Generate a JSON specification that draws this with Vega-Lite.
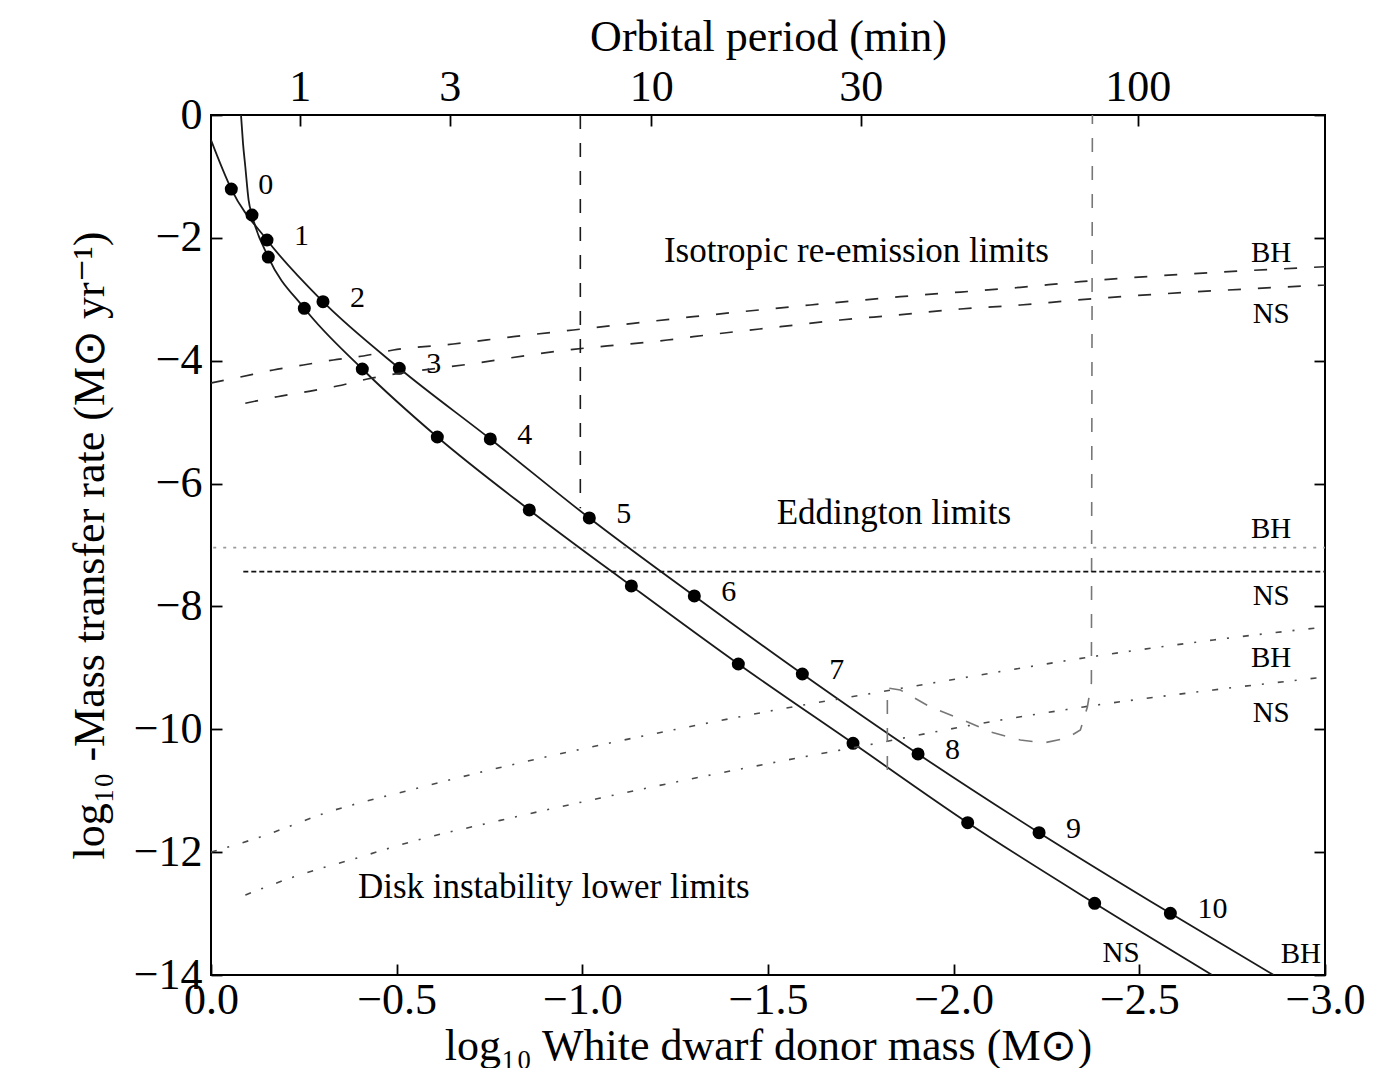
{
  "$schema": "https://vega.github.io/schema/vega-lite/v6.json",
  "width": 1114,
  "height": 860,
  "autosize": {"type": "none"},
  "padding": {"left": 211, "top": 115, "right": 66, "bottom": 93},
  "background": "white",
  "config": {
    "font": "Liberation Serif",
    "view": {"stroke": "black", "strokeWidth": 2},
    "axis": {
      "domain": false, "grid": false,
      "tickColor": "black", "tickWidth": 1.8, "tickSize": -11,
      "labelColor": "black", "titleColor": "black",
      "labelFont": "Liberation Serif", "titleFont": "Liberation Serif",
      "labelFontSize": 44, "titleFontSize": 44, "titleFontWeight": "normal",
      "labelOverlap": false, "labelBound": false, "labelFlush": false
    }
  },
  "datasets": {
    "curves": [
      {"s": "BH", "x": 0, "y": -0.407},
      {"s": "BH", "x": -0.0547, "y": -1.205},
      {"s": "BH", "x": -0.1508, "y": -2.035},
      {"s": "BH", "x": -0.3016, "y": -3.039},
      {"s": "BH", "x": -0.5071, "y": -4.123},
      {"s": "BH", "x": -0.7522, "y": -5.274},
      {"s": "BH", "x": -1.0188, "y": -6.56},
      {"s": "BH", "x": -1.3016, "y": -7.83},
      {"s": "BH", "x": -1.5925, "y": -9.1},
      {"s": "BH", "x": -1.9041, "y": -10.402},
      {"s": "BH", "x": -2.23, "y": -11.683},
      {"s": "BH", "x": -2.5836, "y": -12.996},
      {"s": "BH", "x": -2.862, "y": -14.0},
      {"s": "NS", "x": -0.0808, "y": 0},
      {"s": "NS", "x": -0.0862, "y": -0.461},
      {"s": "NS", "x": -0.0924, "y": -0.842},
      {"s": "NS", "x": -0.1013, "y": -1.384},
      {"s": "NS", "x": -0.1104, "y": -1.628},
      {"s": "NS", "x": -0.1543, "y": -2.312},
      {"s": "NS", "x": -0.2513, "y": -3.147},
      {"s": "NS", "x": -0.4075, "y": -4.135},
      {"s": "NS", "x": -0.6095, "y": -5.242},
      {"s": "NS", "x": -0.8572, "y": -6.43},
      {"s": "NS", "x": -1.132, "y": -7.667},
      {"s": "NS", "x": -1.4201, "y": -8.937},
      {"s": "NS", "x": -1.729, "y": -10.228},
      {"s": "NS", "x": -2.0377, "y": -11.521},
      {"s": "NS", "x": -2.3797, "y": -12.833},
      {"s": "NS", "x": -2.696, "y": -14.0}
    ],
    "dots": [
      {"s": "BH", "n": "0", "x": -0.0547, "y": -1.205},
      {"s": "BH", "n": "1", "x": -0.1508, "y": -2.035},
      {"s": "BH", "n": "2", "x": -0.3016, "y": -3.039},
      {"s": "BH", "n": "3", "x": -0.5071, "y": -4.123},
      {"s": "BH", "n": "4", "x": -0.7522, "y": -5.274},
      {"s": "BH", "n": "5", "x": -1.0188, "y": -6.56},
      {"s": "BH", "n": "6", "x": -1.3016, "y": -7.83},
      {"s": "BH", "n": "7", "x": -1.5925, "y": -9.1},
      {"s": "BH", "n": "8", "x": -1.9041, "y": -10.402},
      {"s": "BH", "n": "9", "x": -2.23, "y": -11.683},
      {"s": "BH", "n": "10", "x": -2.5836, "y": -12.996},
      {"s": "NS", "n": "0", "x": -0.1104, "y": -1.628},
      {"s": "NS", "n": "1", "x": -0.1543, "y": -2.312},
      {"s": "NS", "n": "2", "x": -0.2513, "y": -3.147},
      {"s": "NS", "n": "3", "x": -0.4075, "y": -4.135},
      {"s": "NS", "n": "4", "x": -0.6095, "y": -5.242},
      {"s": "NS", "n": "5", "x": -0.8572, "y": -6.43},
      {"s": "NS", "n": "6", "x": -1.132, "y": -7.667},
      {"s": "NS", "n": "7", "x": -1.4201, "y": -8.937},
      {"s": "NS", "n": "8", "x": -1.729, "y": -10.228},
      {"s": "NS", "n": "9", "x": -2.0377, "y": -11.521},
      {"s": "NS", "n": "10", "x": -2.3797, "y": -12.833}
    ],
    "limits": [
      {"s": "isoBH", "i": 0, "x": 0, "y": -4.363},
      {"s": "isoBH", "i": 1, "x": -0.0789, "y": -4.265},
      {"s": "isoBH", "i": 2, "x": -0.1678, "y": -4.151},
      {"s": "isoBH", "i": 3, "x": -0.2486, "y": -4.07},
      {"s": "isoBH", "i": 4, "x": -0.3294, "y": -3.988},
      {"s": "isoBH", "i": 5, "x": -0.4102, "y": -3.923},
      {"s": "isoBH", "i": 6, "x": -0.491, "y": -3.826},
      {"s": "isoBH", "i": 7, "x": -0.6526, "y": -3.728},
      {"s": "isoBH", "i": 8, "x": -0.8142, "y": -3.609},
      {"s": "isoBH", "i": 9, "x": -0.9757, "y": -3.5},
      {"s": "isoBH", "i": 10, "x": -1.1373, "y": -3.391},
      {"s": "isoBH", "i": 11, "x": -1.2989, "y": -3.283},
      {"s": "isoBH", "i": 12, "x": -1.614, "y": -3.093},
      {"s": "isoBH", "i": 13, "x": -1.8564, "y": -2.958},
      {"s": "isoBH", "i": 14, "x": -2.1796, "y": -2.805},
      {"s": "isoBH", "i": 15, "x": -2.3412, "y": -2.714},
      {"s": "isoBH", "i": 16, "x": -3.0, "y": -2.47},
      {"s": "isoNS", "i": 0, "x": -0.0924, "y": -4.693},
      {"s": "isoNS", "i": 1, "x": -0.1786, "y": -4.586},
      {"s": "isoNS", "i": 2, "x": -0.2594, "y": -4.504},
      {"s": "isoNS", "i": 3, "x": -0.3402, "y": -4.412},
      {"s": "isoNS", "i": 4, "x": -0.4209, "y": -4.298},
      {"s": "isoNS", "i": 5, "x": -0.6984, "y": -4.053},
      {"s": "isoNS", "i": 6, "x": -0.9757, "y": -3.814},
      {"s": "isoNS", "i": 7, "x": -1.0673, "y": -3.76},
      {"s": "isoNS", "i": 8, "x": -1.2289, "y": -3.663},
      {"s": "isoNS", "i": 9, "x": -1.2989, "y": -3.609},
      {"s": "isoNS", "i": 10, "x": -1.5333, "y": -3.446},
      {"s": "isoNS", "i": 11, "x": -1.6948, "y": -3.337},
      {"s": "isoNS", "i": 12, "x": -1.8484, "y": -3.256},
      {"s": "isoNS", "i": 13, "x": -2.018, "y": -3.158},
      {"s": "isoNS", "i": 14, "x": -2.1796, "y": -3.093},
      {"s": "isoNS", "i": 15, "x": -2.3331, "y": -3.012},
      {"s": "isoNS", "i": 16, "x": -3.0, "y": -2.767},
      {"s": "diskBH", "i": 0, "x": 0, "y": -12.0},
      {"s": "diskBH", "i": 1, "x": -0.1328, "y": -11.753},
      {"s": "diskBH", "i": 2, "x": -0.3159, "y": -11.347},
      {"s": "diskBH", "i": 3, "x": -0.5368, "y": -10.988},
      {"s": "diskBH", "i": 4, "x": -0.7791, "y": -10.622},
      {"s": "diskBH", "i": 5, "x": -1.0485, "y": -10.256},
      {"s": "diskBH", "i": 6, "x": -1.3178, "y": -9.922},
      {"s": "diskBH", "i": 7, "x": -1.5871, "y": -9.613},
      {"s": "diskBH", "i": 8, "x": -1.7218, "y": -9.474},
      {"s": "diskBH", "i": 9, "x": -1.9911, "y": -9.198},
      {"s": "diskBH", "i": 10, "x": -2.3681, "y": -8.823},
      {"s": "diskBH", "i": 11, "x": -2.6994, "y": -8.546},
      {"s": "diskBH", "i": 12, "x": -3.0, "y": -8.335},
      {"s": "diskNS", "i": 0, "x": -0.0924, "y": -12.698},
      {"s": "diskNS", "i": 1, "x": -0.2216, "y": -12.405},
      {"s": "diskNS", "i": 2, "x": -0.4021, "y": -12.079},
      {"s": "diskNS", "i": 3, "x": -0.5368, "y": -11.835},
      {"s": "diskNS", "i": 4, "x": -0.7791, "y": -11.483},
      {"s": "diskNS", "i": 5, "x": -1.0485, "y": -11.119},
      {"s": "diskNS", "i": 6, "x": -1.3178, "y": -10.777},
      {"s": "diskNS", "i": 7, "x": -1.5871, "y": -10.459},
      {"s": "diskNS", "i": 8, "x": -1.7756, "y": -10.248},
      {"s": "diskNS", "i": 9, "x": -1.9911, "y": -9.995},
      {"s": "diskNS", "i": 10, "x": -2.3493, "y": -9.637},
      {"s": "diskNS", "i": 11, "x": -2.6994, "y": -9.36},
      {"s": "diskNS", "i": 12, "x": -3.0, "y": -9.149},
      {"s": "pmin", "i": 0, "x": -1.8214, "y": -10.663},
      {"s": "pmin", "i": 1, "x": -1.8214, "y": -9.328},
      {"s": "pmin", "i": 2, "x": -1.8564, "y": -9.36},
      {"s": "pmin", "i": 3, "x": -1.9372, "y": -9.637},
      {"s": "pmin", "i": 4, "x": -2.0261, "y": -9.849},
      {"s": "pmin", "i": 5, "x": -2.0989, "y": -10.044},
      {"s": "pmin", "i": 6, "x": -2.1796, "y": -10.174},
      {"s": "pmin", "i": 7, "x": -2.2416, "y": -10.223},
      {"s": "pmin", "i": 8, "x": -2.3062, "y": -10.142},
      {"s": "pmin", "i": 9, "x": -2.3412, "y": -10.011},
      {"s": "pmin", "i": 10, "x": -2.3601, "y": -9.637},
      {"s": "pmin", "i": 11, "x": -2.3709, "y": -9.246},
      {"s": "pmin", "i": 12, "x": -2.3736, "y": 0},
      {"s": "vline", "i": 0, "x": -0.9946, "y": 0},
      {"s": "vline", "i": 1, "x": -0.9946, "y": -6.4},
      {"s": "eddBH", "i": 0, "x": -0.006, "y": -7.044},
      {"s": "eddBH", "i": 1, "x": -3.0, "y": -7.044},
      {"s": "eddNS", "i": 0, "x": -0.087, "y": -7.434},
      {"s": "eddNS", "i": 1, "x": -3.0, "y": -7.434}
    ],
    "notes": [
      {"g": "head", "t": "Isotropic re-emission limits", "x": -1.738, "y": -2.388},
      {"g": "head", "t": "Eddington limits", "x": -1.8389, "y": -6.658},
      {"g": "head", "t": "Disk instability lower limits", "x": -0.9232, "y": -12.747},
      {"g": "tag", "t": "BH", "x": -2.855, "y": -2.388},
      {"g": "tag", "t": "NS", "x": -2.855, "y": -3.391},
      {"g": "tag", "t": "BH", "x": -2.855, "y": -6.886},
      {"g": "tag", "t": "NS", "x": -2.855, "y": -7.977},
      {"g": "tag", "t": "BH", "x": -2.855, "y": -8.981},
      {"g": "tag", "t": "NS", "x": -2.855, "y": -9.876},
      {"g": "tag", "t": "NS", "x": -2.4508, "y": -13.783},
      {"g": "tag", "t": "BH", "x": -2.935, "y": -13.804}
    ]
  },
  "resolve": {"axis": {"x": "independent", "y": "independent"}},
  "layer": [
    {
      "data": {"name": "curves"},
      "mark": {"type": "line", "color": "#1a1a1a", "strokeWidth": 1.8, "interpolate": "monotone", "clip": true},
      "encoding": {
        "x": {"field": "x", "type": "quantitative",
              "scale": {"domain": [0, -3], "nice": false, "zero": false},
              "axis": {"orient": "bottom", "values": [0, -0.5, -1, -1.5, -2, -2.5, -3], "format": ".1f",
                       "labelPadding": 14, "titlePadding": 2,
                       "title": "log₁₀ White dwarf donor mass (M⊙)"}},
        "y": {"field": "y", "type": "quantitative",
              "scale": {"domain": [-14, 0], "nice": false, "zero": false},
              "axis": {"orient": "left", "values": [0, -2, -4, -6, -8, -10, -12, -14], "format": "d",
                       "labelPadding": 20, "titlePadding": 21,
                       "title": "log₁₀ -Mass transfer rate (M⊙ yr⁻¹)"}},
        "detail": {"field": "s"}
      }
    },
    {
      "data": {"name": "dots"},
      "mark": {"type": "point", "filled": true, "color": "black", "opacity": 1, "size": 170, "shape": "circle"},
      "encoding": {
        "x": {"field": "x", "type": "quantitative",
              "axis": {"orient": "top", "values": [-0.2392, -0.6431, -1.1853, -1.7498, -2.4955],
                       "labelExpr": "datum.value > -0.4 ? '1' : datum.value > -0.9 ? '3' : datum.value > -1.4 ? '10' : datum.value > -2 ? '30' : '100'",
                       "labelPadding": 17, "titlePadding": 6, "title": "Orbital period (min)"}},
        "y": {"field": "y", "type": "quantitative",
              "axis": {"orient": "right", "values": [0, -2, -4, -6, -8, -10, -12, -14], "labels": false, "title": null}}
      }
    },
    {
      "data": {"name": "dots"},
      "transform": [{"filter": "datum.s === 'BH'"}],
      "mark": {"type": "text", "font": "Liberation Serif", "fontSize": 30, "align": "left", "baseline": "middle", "dx": 27, "dy": -4, "color": "black"},
      "encoding": {
        "x": {"field": "x", "type": "quantitative", "axis": null},
        "y": {"field": "y", "type": "quantitative", "axis": null},
        "text": {"field": "n"}
      }
    },
    {
      "data": {"name": "limits"},
      "transform": [{"filter": "datum.s === 'isoBH' || datum.s === 'isoNS'"}],
      "mark": {"type": "line", "color": "#2a2a2a", "strokeWidth": 1.7, "strokeDash": [13, 17], "interpolate": "monotone", "clip": true},
      "encoding": {
        "x": {"field": "x", "type": "quantitative", "axis": null},
        "y": {"field": "y", "type": "quantitative", "axis": null},
        "detail": {"field": "s"},
        "order": {"field": "i"}
      }
    },
    {
      "data": {"name": "limits"},
      "transform": [{"filter": "datum.s === 'diskBH' || datum.s === 'diskNS'"}],
      "mark": {"type": "line", "color": "#4a4a4a", "strokeWidth": 1.6, "strokeDash": [6, 11, 2, 14], "interpolate": "monotone", "clip": true},
      "encoding": {
        "x": {"field": "x", "type": "quantitative", "axis": null},
        "y": {"field": "y", "type": "quantitative", "axis": null},
        "detail": {"field": "s"},
        "order": {"field": "i"}
      }
    },
    {
      "data": {"name": "limits"},
      "transform": [{"filter": "datum.s === 'pmin'"}],
      "mark": {"type": "line", "color": "#777777", "strokeWidth": 1.6, "strokeDash": [14, 14], "clip": true},
      "encoding": {
        "x": {"field": "x", "type": "quantitative", "axis": null},
        "y": {"field": "y", "type": "quantitative", "axis": null},
        "order": {"field": "i"}
      }
    },
    {
      "data": {"name": "limits"},
      "transform": [{"filter": "datum.s === 'vline'"}],
      "mark": {"type": "line", "color": "#1a1a1a", "strokeWidth": 1.6, "strokeDash": [14, 14], "clip": true},
      "encoding": {
        "x": {"field": "x", "type": "quantitative", "axis": null},
        "y": {"field": "y", "type": "quantitative", "axis": null},
        "order": {"field": "i"}
      }
    },
    {
      "data": {"name": "limits"},
      "transform": [{"filter": "datum.s === 'eddBH'"}],
      "mark": {"type": "line", "color": "#9a9a9a", "strokeWidth": 1.8, "strokeDash": [3, 7], "clip": true},
      "encoding": {
        "x": {"field": "x", "type": "quantitative", "axis": null},
        "y": {"field": "y", "type": "quantitative", "axis": null},
        "order": {"field": "i"}
      }
    },
    {
      "data": {"name": "limits"},
      "transform": [{"filter": "datum.s === 'eddNS'"}],
      "mark": {"type": "line", "color": "#111111", "strokeWidth": 1.8, "strokeDash": [5, 3], "clip": true},
      "encoding": {
        "x": {"field": "x", "type": "quantitative", "axis": null},
        "y": {"field": "y", "type": "quantitative", "axis": null},
        "order": {"field": "i"}
      }
    },
    {
      "data": {"name": "notes"},
      "transform": [{"filter": "datum.g === 'head'"}],
      "mark": {"type": "text", "font": "Liberation Serif", "fontSize": 35, "align": "center", "baseline": "alphabetic", "color": "black"},
      "encoding": {
        "x": {"field": "x", "type": "quantitative", "axis": null},
        "y": {"field": "y", "type": "quantitative", "axis": null},
        "text": {"field": "t"}
      }
    },
    {
      "data": {"name": "notes"},
      "transform": [{"filter": "datum.g === 'tag'"}],
      "mark": {"type": "text", "font": "Liberation Serif", "fontSize": 29, "align": "center", "baseline": "alphabetic", "color": "black"},
      "encoding": {
        "x": {"field": "x", "type": "quantitative", "axis": null},
        "y": {"field": "y", "type": "quantitative", "axis": null},
        "text": {"field": "t"}
      }
    }
  ]
}
